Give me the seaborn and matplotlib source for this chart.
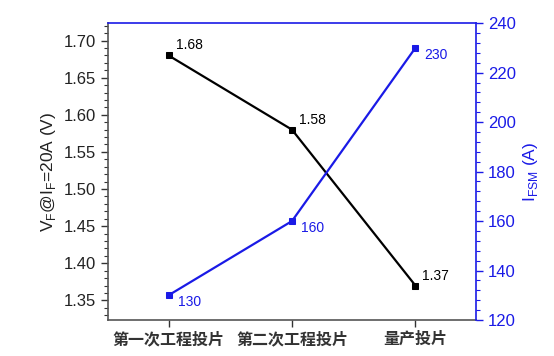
import matplotlib
matplotlib.use("Agg")
import matplotlib.pyplot as plt
from matplotlib.ticker import MultipleLocator
import seaborn as sns
import pandas as pd

categories = ["第一次工程投片", "第二次工程投片", "量产投片"]
vf_values = [1.68, 1.58, 1.37]
ifsm_values = [130, 160, 230]
vf_labels = ["1.68", "1.58", "1.37"]
ifsm_labels = ["130", "160", "230"]

sns.set_style("ticks")
plt.rcParams["font.family"] = ["Liberation Sans", "Noto Sans CJK SC", "DejaVu Sans"]
plt.rcParams["mathtext.fontset"] = "custom"
plt.rcParams["mathtext.rm"] = "Liberation Sans"

BLUE = "#1a1ae6"
BLACK = "#000000"

df = pd.DataFrame({"cat": categories, "vf": vf_values, "ifsm": ifsm_values})

fig = plt.figure(figsize=(5.54, 3.56), dpi=100)
ax = fig.add_axes([0.195, 0.101, 0.664, 0.834])
ax2 = ax.twinx()

sns.lineplot(data=df, x="cat", y="vf", ax=ax, color=BLACK, marker="s",
             markersize=5, markeredgecolor=BLACK, linewidth=1.6, sort=False)
sns.lineplot(data=df, x="cat", y="ifsm", ax=ax2, color=BLUE, marker="s",
             markersize=5, markeredgecolor=BLUE, linewidth=1.6, sort=False)

ax.set_xlim(-0.49, 2.49)
ax.set_ylim(1.3235, 1.7235)
ax2.set_ylim(120, 240)

ax.yaxis.set_major_locator(MultipleLocator(0.05))
ax.yaxis.set_minor_locator(MultipleLocator(0.01))
ax2.yaxis.set_major_locator(MultipleLocator(20))
ax2.yaxis.set_minor_locator(MultipleLocator(4))
ax.yaxis.set_major_formatter(matplotlib.ticker.FormatStrFormatter("%.2f"))

ax.set_xlabel("")
ax.set_ylabel(r"V$_\mathregular{F}$@I$_\mathregular{F}$=20A (V)", fontsize=12.5, color="#222222")
ax2.set_ylabel(r"I$_\mathregular{FSM}$ (A)", fontsize=12.5, color=BLUE)

ax.set_xticks(range(len(categories)))
ax.set_xticklabels(categories, fontsize=11.5, fontfamily=["Noto Sans CJK SC"], fontweight="bold", color="#222222")

ax.tick_params(axis="y", which="major", length=5, width=1, labelsize=12, colors="#333333", labelcolor="#222222")
ax.tick_params(axis="y", which="minor", length=3, width=0.8, colors="#333333")
ax.tick_params(axis="x", which="major", length=5, width=1, colors="#333333", pad=3)
ax2.tick_params(axis="y", which="major", length=5, width=1, labelsize=12, colors=BLUE)
ax2.tick_params(axis="y", which="minor", length=3, width=0.8, colors=BLUE)

for sp in ["left", "bottom"]:
    ax.spines[sp].set_color("#555555")
    ax.spines[sp].set_linewidth(1.2)
for sp in ["top", "right"]:
    ax2.spines[sp].set_color(BLUE)
    ax2.spines[sp].set_linewidth(1.2)
ax2.spines["left"].set_visible(False)
ax2.spines["bottom"].set_visible(False)
ax.spines["top"].set_visible(False)
ax.spines["right"].set_visible(False)

for i, (v, lab) in enumerate(zip(vf_values, vf_labels)):
    ax.annotate(lab, (i, v), xytext=(7, 3), textcoords="offset pixels",
                fontsize=10, color=BLACK, va="bottom", ha="left")
for i, (v, lab) in enumerate(zip(ifsm_values, ifsm_labels)):
    ax2.annotate(lab, (i, v), xytext=(9, -7), textcoords="offset pixels",
                 fontsize=10, color=BLUE, va="center", ha="left")

fig.savefig("out.png", dpi=100)
